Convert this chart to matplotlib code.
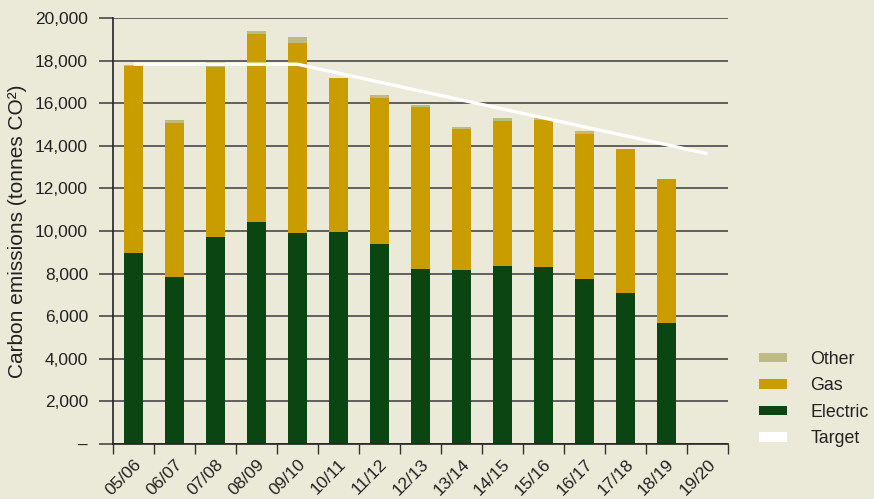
import matplotlib

matplotlib.use("Agg")

import matplotlib.pyplot as plt
from matplotlib.patches import Patch
from matplotlib.ticker import FuncFormatter, MultipleLocator

plt.rcParams["font.family"] = ["Liberation Sans", "DejaVu Sans"]

years = ["05/06", "06/07", "07/08", "08/09", "09/10", "10/11", "11/12", "12/13",
         "13/14", "14/15", "15/16", "16/17", "17/18", "18/19", "19/20"]
electric = [8950, 7850, 9720, 10440, 9910, 9950, 9390, 8220, 8170, 8360, 8310, 7750, 7090, 5680]
gas = [8800, 7210, 7990, 8810, 8920, 7230, 6850, 7600, 6620, 6800, 6900, 6800, 6760, 6760]
other = [30, 150, 240, 140, 280, 0, 140, 90, 90, 140, 100, 140, 0, 0]
target = [17830, 17830, 17830, 17830, 17830, 17410, 16990, 16570, 16150, 15730,
          15310, 14890, 14470, 14050, 13630]

BG = "#ebead8"
C_OTHER = "#bdbb83"
C_GAS = "#c99c00"
C_ELEC = "#0b4511"
GRID = "#555555"

fig = plt.figure(figsize=(8.74, 4.99), dpi=100, facecolor=BG)
ax = fig.add_axes([113 / 874, 1 - 444 / 499, (728 - 113) / 874, (444 - 18) / 499])
ax.set_facecolor(BG)

x = list(range(len(electric)))
gas_bottom = electric
other_bottom = [e + g for e, g in zip(electric, gas)]
w = 0.44
ax.bar(x, electric, width=w, color=C_ELEC, zorder=2)
ax.bar(x, gas, width=w, bottom=gas_bottom, color=C_GAS, zorder=2)
ax.bar(x, other, width=w, bottom=other_bottom, color=C_OTHER, zorder=2)
ax.plot(range(len(target)), target, color="white", lw=2.4, zorder=3,
        solid_capstyle="butt")

ax.set_xlim(-0.5, len(years) - 0.5)
ax.set_ylim(0, 20000)
ax.yaxis.set_major_locator(MultipleLocator(2000))
ax.yaxis.set_major_formatter(FuncFormatter(lambda v, p: "–" if v == 0 else f"{v:,.0f}"))
ax.grid(axis="y", color=GRID, lw=1.3)
ax.set_axisbelow(True)

ax.set_xticks(range(len(years)))
ax.set_xticklabels(years, rotation=45, ha="right", va="top", rotation_mode="anchor")
ax.set_xticks([i - 0.5 for i in range(len(years) + 1)], minor=True)
ax.tick_params(axis="x", which="major", length=0, pad=9, labelsize=12.5, colors="#222222")
ax.tick_params(axis="x", which="minor", length=7, width=1, color="#333333")
ax.tick_params(axis="y", length=10, width=1.3, color=GRID, pad=8, labelsize=12.5,
               labelcolor="#222222")

for s in ("top", "right"):
    ax.spines[s].set_visible(False)
for s in ("left", "bottom"):
    ax.spines[s].set_color("#222222")
    ax.spines[s].set_linewidth(1.2)

ax.set_ylabel("Carbon emissions (tonnes CO²)", fontsize=15, color="#222222", labelpad=6)

handles = [
    Patch(facecolor=C_OTHER, label="Other"),
    Patch(facecolor=C_GAS, label="Gas"),
    Patch(facecolor=C_ELEC, label="Electric"),
    Patch(facecolor="white", label="Target"),
]
fig.legend(handles=handles, loc="upper left", bbox_to_anchor=(759 / 874, 1 - 351 / 499),
           frameon=False, fontsize=12.8, handlelength=1.55, handleheight=0.42,
           handletextpad=1.35, labelspacing=0.53, borderpad=0, borderaxespad=0,
           labelcolor="#222222")

fig.savefig("out.png", dpi=100, facecolor=BG)
